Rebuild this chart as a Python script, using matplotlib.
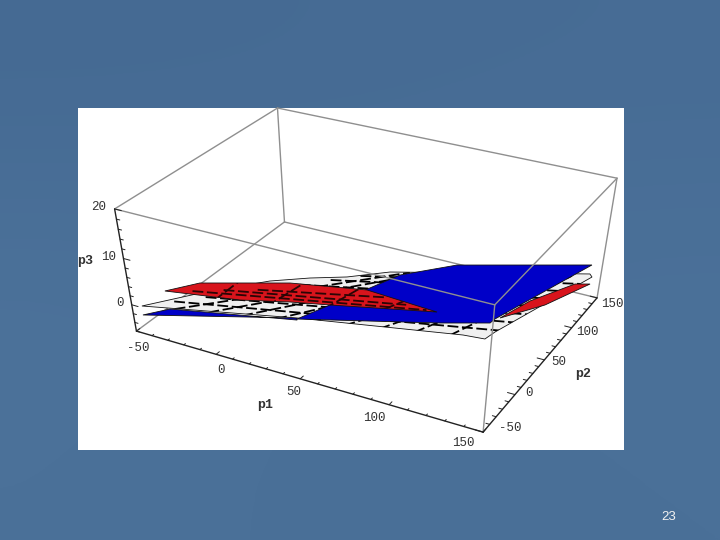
import numpy as np
import matplotlib
matplotlib.use("Agg")
import matplotlib.pyplot as plt
from matplotlib.patches import Polygon, Rectangle

# camera for (p1, p2, p3) -> slide pixels
camera = np.array([[1.4947, 0.957885, -1.22396, 252.943],
                   [0.282312, -0.385786, -5.42819, 296.313],
                   [-0.000526313, 0.000741985, -0.003292, 1.0]])

p1_lim = [-50, 150]
p2_lim = [-50, 150]
p3_lim = [-6, 20]
sheet_p3 = -3

p1_ticks = [-50, 0, 50, 100, 150]
p2_ticks = [-50, 0, 50, 100, 150]
p3_ticks = [0, 10, 20]

# sheets, (p1, p2) outlines at p3 = sheet_p3
white_p1 = [-54.1, -33.5, -9.5, 7.9, 25.1, 43.1, 140.9, 143.2, 121.2, 119.6, 108.1, 24.5]
white_p2 = [-33.3, 5.1, 41.6, 59.5, 73.8, 95.7, 163.0, 159.2, 51.7, 39.8, 37.6, 4.0]
blue_low_p1 = [-47.9, -39.2, 25.6, 24.5]
blue_low_p2 = [-43.5, -27.5, 1.5, 4.0]
blue_main_p1 = [25.0, 42.2, 49.6, 72.0, 138.0, 115.6, 115.1, 92.3]
blue_main_p2 = [2.7, 66.9, 95.0, 129.3, 177.2, 68.3, 61.5, 45.0]
red_left_p1 = [-53.1, -41.7, -11.6, 1.3, 41.9, 85.8, 32.6, 12.3, -12.2]
red_left_p2 = [-7.3, 14.8, 36.6, 45.9, 63.2, 58.0, 31.1, 21.4, 7.0]
red_right_p1 = [117.5, 124.0, 138.0, 145.2, 132.7]
red_right_p2 = [71.2, 103.9, 143.1, 148.3, 103.5]

# mesh lines of the white sheet
white_a_start = [(-42, -17), (-30, -1), (-18, 15), (-6, 31), (7, 47), (19, 64), (31, 80)]
white_a_end = [(122.5, 55), (125.5, 70), (128.5, 85), (131.4, 100), (134.4, 115), (137.3, 130), (140.3, 145)]
white_b_start = [(-37, -26), (-19.4, -18.7), (-2, -11.4), (15.4, -4), (32.8, 3.3),
                 (50, 10.6), (67.5, 17.9), (84.9, 25.2), (102.2, 32.5)]
white_b_end = [(53, 102), (63, 109), (73, 115), (83, 122), (93, 128),
               (103, 134), (113, 141), (123, 147), (133, 154)]

# mesh lines of the red sheet
red_a_start = [(-40, 2), (-26, 14), (-10, 26)]
red_a_end = [(80, 57), (68, 57), (55, 60)]
red_b_start = [(-24, -3), (4, 8), (32, 24), (60, 44)]
red_b_end = [(-24, 30), (8, 50), (38, 65), (66, 64)]

box_color = "#8f8f8f"
bg_colors = np.array([[[69, 106, 147], [70, 107, 148], [71, 108, 149]],
                      [[76, 114, 154], [74, 112, 152], [75, 113, 153]],
                      [[75, 113, 153], [73, 111, 151], [74, 112, 152]]]) / 255.0


def project(p1, p2, p3):
    """Send data points through the camera, returns slide pixels."""
    p1, p2, p3 = np.broadcast_arrays(p1, p2, p3)
    pts = np.stack([p1, p2, p3, np.ones_like(p1)]).astype(float)
    u, v, w = camera @ pts
    return u / w, v / w


def box_line(ax, a, b, **kw):
    xs, ys = project([a[0], b[0]], [a[1], b[1]], [a[2], b[2]])
    ax.plot(xs, ys, solid_capstyle="round", **kw)


def sheet(ax, p1, p2, color, z):
    xs, ys = project(p1, p2, sheet_p3)
    patch = Polygon(np.c_[xs, ys], closed=True, facecolor=color, edgecolor="#111111", lw=0.6, zorder=z)
    ax.add_patch(patch)
    return patch


def mesh(ax, starts, ends, clip, z, color="black"):
    for s, e in zip(starts, ends):
        xs, ys = project([s[0], e[0]], [s[1], e[1]], sheet_p3)
        line, = ax.plot(xs, ys, color=color, lw=1.3, ls=(0, (6, 2)), zorder=z)
        line.set_clip_path(clip)


fig = plt.figure(figsize=(7.2, 5.4), dpi=100)
ax = fig.add_axes([0, 0, 1, 1])
ax.imshow(bg_colors, extent=[0, 720, 540, 0], interpolation="bicubic", aspect="auto", zorder=0)
ax.set_xlim(0, 720)
ax.set_ylim(540, 0)
ax.axis("off")
ax.add_patch(Rectangle((78, 108), 546, 342, facecolor="white", edgecolor="none", zorder=1))

a0, a1 = p1_lim
b0, b1 = p2_lim
c0, c1 = p3_lim

# box edges behind the sheets
gray = dict(color=box_color, lw=1.0, zorder=2)
box_line(ax, (a0, b0, c0), (a0, b1, c0), **gray)
box_line(ax, (a0, b1, c0), (a1, b1, c0), **gray)
box_line(ax, (a0, b1, c0), (a0, b1, c1), **gray)
box_line(ax, (a1, b1, c0), (a1, b1, c1), **gray)
box_line(ax, (a0, b0, c1), (a0, b1, c1), **gray)
box_line(ax, (a0, b1, c1), (a1, b1, c1), **gray)

# sheets, bottom up
sheet(ax, blue_low_p1, blue_low_p2, "#0000c8", 3)
white = sheet(ax, white_p1, white_p2, "#f0f0f0", 4)
mesh(ax, white_a_start, white_a_end, white, 5)
mesh(ax, white_b_start, white_b_end, white, 5)
sheet(ax, red_right_p1, red_right_p2, "#d8141c", 6)
sheet(ax, blue_main_p1, blue_main_p2, "#0000c8", 7)
red = sheet(ax, red_left_p1, red_left_p2, "#d8141c", 8)
mesh(ax, red_a_start, red_a_end, red, 9, color="#2a0505")
mesh(ax, red_b_start, red_b_end, red, 9, color="#2a0505")

# box edges in front of the sheets
front = dict(color=box_color, lw=1.0, zorder=10)
box_line(ax, (a0, b0, c1), (a1, b0, c1), **front)
box_line(ax, (a1, b0, c1), (a1, b1, c1), **front)
box_line(ax, (a1, b0, c0), (a1, b0, c1), **front)

# axes with their ticks
axis = dict(color="#222222", lw=1.0, zorder=11)
box_line(ax, (a0, b0, c0), (a1, b0, c0), **axis)
box_line(ax, (a1, b0, c0), (a1, b1, c0), **axis)
box_line(ax, (a0, b0, c0), (a0, b0, c1), **axis)
tick = dict(color="#222222", lw=0.7, zorder=11)
for v in np.arange(a0, a1 + 1, 10):
    d = 4 if v % 50 == 0 else 2
    box_line(ax, (v, b0, c0), (v, b0 + d, c0), **tick)
for v in np.arange(b0, b1 + 1, 10):
    d = 4 if v % 50 == 0 else 2
    box_line(ax, (a1, v, c0), (a1 - d, v, c0), **tick)
for v in np.arange(c0, c1 + 1, 2):
    d = 4 if v % 10 == 0 else 2
    box_line(ax, (a0, b0, v), (a0 + d, b0, v), **tick)

# tick labels
num = dict(family="Liberation Mono", fontsize=9, color="#333333", ha="center", va="center", zorder=12)
p1_label_xy = [(138, 348), (221, 370), (294, 392), (374, 418), (463, 443)]
p2_label_xy = [(510, 428), (529, 393), (559, 362), (587, 332), (612, 304)]
p3_label_xy = [(120, 303), (109, 257), (99, 207)]
for v, xy in zip(p1_ticks, p1_label_xy):
    ax.text(*xy, str(v), **num)
for v, xy in zip(p2_ticks, p2_label_xy):
    ax.text(*xy, str(v), **num)
for v, xy in zip(p3_ticks, p3_label_xy):
    ax.text(*xy, str(v), **num)

name = dict(family="Liberation Mono", fontsize=9.5, fontweight="bold", color="#333333",
            ha="center", va="center", zorder=12)
ax.text(265, 405, "p1", **name)
ax.text(583, 374, "p2", **name)
ax.text(85, 261, "p3", **name)

ax.text(669, 517, "23", family="Liberation Sans", fontsize=9.5, color="#f2f2f2",
        ha="center", va="center", zorder=12)

fig.savefig("out.png", dpi=100)
